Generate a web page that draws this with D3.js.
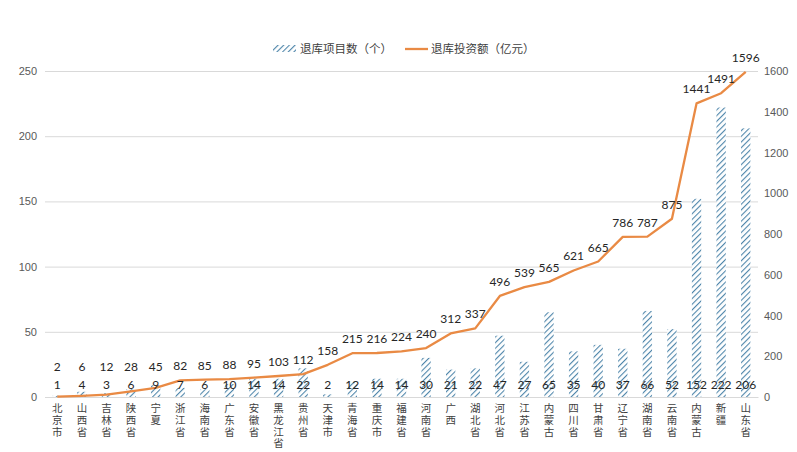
<!DOCTYPE html>
<html>
    <head>
        <meta charset="utf-8">
        <style>
        html, body {
            margin: 0;
            padding: 0;
            background: #fff;
        }
        svg {
            display: block;
            font-family: Lato, "Noto Sans CJK SC", sans-serif;
        }
        </style>
    </head>
    <body>
        <svg width="797" height="452"></svg>
        <script src="https://cdnjs.cloudflare.com/ajax/libs/d3/7.8.5/d3.min.js"></script>
        <script>
            // categories (provinces) in chart order
            let provinces = ["北京市", "山西省", "吉林省", "陕西省", "宁夏", "浙江省", "海南省", "广东省", "安徽省", "黑龙江省",
                "贵州省", "天津市", "青海省", "重庆市", "福建省", "河南省", "广西", "湖北省", "河北省", "江苏省",
                "内蒙古", "四川省", "甘肃省", "辽宁省", "湖南省", "云南省", "内蒙古", "新疆", "山东省"];
            // 退库项目数（个）
            let projects = [1, 4, 3, 6, 9, 7, 6, 10, 14, 14, 22, 2, 12, 14, 14, 30, 21, 22, 47, 27, 65, 35, 40, 37, 66, 52, 152, 222, 206];
            // 退库投资额（亿元）
            let investment = [2, 6, 12, 28, 45, 82, 85, 88, 95, 103, 112, 158, 215, 216, 224, 240, 312, 337, 496, 539, 565, 621, 665, 786, 787, 875, 1441, 1491, 1596];
            let leftTicks = [0, 50, 100, 150, 200, 250];
            let rightTicks = [0, 200, 400, 600, 800, 1000, 1200, 1400, 1600];

            const margin = {top: 71, left: 45, right: 39, bottom: 55};
            const width = 797, height = 452;
            const lineColor = "#E98A44";
            const barColor = "#4F86AB";

            let svg = d3.select("svg");

            // hatch pattern for bars
            let defs = svg.append("defs");
            let pat = defs.append("pattern")
                .attr("id", "hatch")
                .attr("patternUnits", "userSpaceOnUse")
                .attr("width", 4)
                .attr("height", 4)
                .attr("patternTransform", "rotate(45)");
            pat.append("rect").attr("width", 4).attr("height", 4).attr("fill", "#fff");
            pat.append("line")
                .attr("x1", 0).attr("y1", 0).attr("x2", 0).attr("y2", 4)
                .attr("stroke", barColor)
                .attr("stroke-width", 2.2);

            let idx = d3.range(provinces.length);
            let xScale = d3.scaleBand()
                .domain(idx)
                .range([margin.left, width - margin.right])
                .paddingInner(0.62)
                .paddingOuter(0.31);
            let yScale = d3.scaleLinear()
                .domain([0, 250])
                .range([height - margin.bottom, margin.top]);
            let y2Scale = d3.scaleLinear()
                .domain([0, 1600])
                .range([height - margin.bottom, margin.top]);

            // gridlines + left axis
            let yAxis = d3.axisLeft(yScale)
                .tickValues(leftTicks)
                .tickSize(-(width - margin.left - margin.right))
                .tickPadding(8);
            let gy = svg.append("g")
                .attr("transform", "translate(" + [margin.left, 0] + ")")
                .call(yAxis);
            gy.select(".domain").remove();
            gy.selectAll("line").attr("stroke", "#d9d9d9");
            gy.selectAll("text")
                .attr("fill", "#595959")
                .attr("font-size", 11)
                .attr("x", -8);

            // right axis
            let y2Axis = d3.axisRight(y2Scale)
                .tickValues(rightTicks)
                .tickFormat(d3.format("d"))
                .tickSize(0)
                .tickPadding(6);
            let gy2 = svg.append("g")
                .attr("transform", "translate(" + [width - margin.right, 0] + ")")
                .call(y2Axis);
            gy2.select(".domain").remove();
            gy2.selectAll("text")
                .attr("fill", "#595959")
                .attr("font-size", 11);

            // bars
            svg.append("g")
                .selectAll("rect")
                .data(projects)
                .enter().append("rect")
                .attr("x", (d, i) => xScale(i))
                .attr("y", d => yScale(d))
                .attr("width", xScale.bandwidth())
                .attr("height", d => yScale(0) - yScale(d))
                .attr("fill", "url(#hatch)");

            // x axis with vertical labels
            let xAxis = d3.axisBottom(xScale)
                .tickSize(0)
                .tickFormat(d => provinces[d]);
            let gx = svg.append("g")
                .attr("transform", "translate(" + [0, height - margin.bottom] + ")")
                .call(xAxis);
            gx.select(".domain").attr("stroke", "#d9d9d9");
            gx.selectAll(".tick text")
                .attr("x", 0)
                .attr("y", 6)
                .attr("dy", null)
                .attr("text-anchor", "start")
                .attr("fill", "#404040")
                .attr("font-size", 10.5)
                .attr("font-family", "'Noto Sans CJK SC', sans-serif")
                .style("writing-mode", "vertical-rl")
                .style("text-orientation", "upright")
                .style("letter-spacing", "1.2px");

            // line
            let line = d3.line()
                .x((d, i) => xScale(i) + xScale.bandwidth() / 2)
                .y(d => y2Scale(d));
            svg.append("path")
                .datum(investment)
                .attr("d", line)
                .attr("fill", "none")
                .attr("stroke", lineColor)
                .attr("stroke-width", 2.3)
                .attr("stroke-linejoin", "round");

            // count labels (inside base)
            svg.append("g")
                .selectAll("text")
                .data(projects)
                .enter().append("text")
                .attr("x", (d, i) => xScale(i) + xScale.bandwidth() / 2)
                .attr("y", yScale(0) - 8)
                .attr("text-anchor", "middle")
                .attr("font-size", 12)
                .attr("fill", "#262626")
                .text(d => d);

            // investment labels above points
            svg.append("g")
                .selectAll("text")
                .data(investment)
                .enter().append("text")
                .attr("x", (d, i) => xScale(i) + xScale.bandwidth() / 2)
                .attr("y", d => Math.min(y2Scale(d) - 10, yScale(0) - 26))
                .attr("text-anchor", "middle")
                .attr("font-size", 12)
                .attr("fill", "#262626")
                .text(d => d);

            // legend
            let legend = svg.append("g").attr("font-size", 11.5).attr("fill", "#404040");
            legend.append("rect")
                .attr("x", 273).attr("y", 45)
                .attr("width", 23).attr("height", 7)
                .attr("fill", "url(#hatch)");
            legend.append("text")
                .attr("x", 300).attr("y", 53)
                .text("退库项目数（个）");
            legend.append("line")
                .attr("x1", 405).attr("x2", 428)
                .attr("y1", 49).attr("y2", 49)
                .attr("stroke", lineColor)
                .attr("stroke-width", 2.3);
            legend.append("text")
                .attr("x", 431).attr("y", 53)
                .text("退库投资额（亿元）");
        </script>
    </body>
</html>
